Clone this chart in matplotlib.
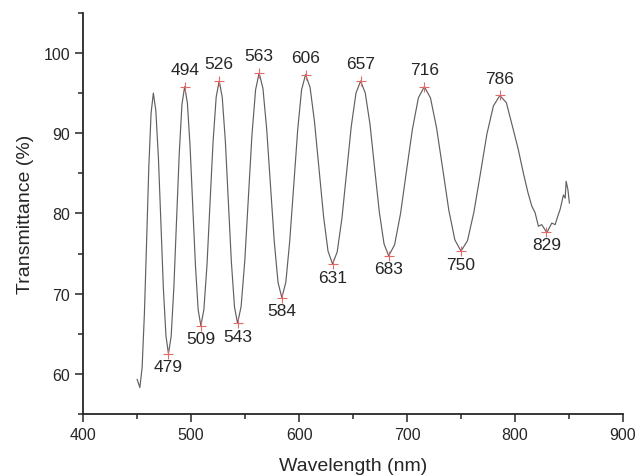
import matplotlib.pyplot as plt
import matplotlib.ticker as ticker

plt.rcParams['font.family'] = ['Liberation Sans', 'DejaVu Sans']

# Transmission spectrum (wavelength nm, transmittance %)
wavelength = [450, 452.5, 454.6, 456.7, 458.8, 460.8, 462.9, 465,
              467.3, 469.7, 472, 474.3, 476.7, 479,
              481.5, 484, 486.5, 489, 491.5, 494,
              496.5, 499, 501.5, 504, 506.5, 509,
              511.8, 514.7, 517.5, 520.3, 523.2, 526,
              528.8, 531.7, 534.5, 537.3, 540.2, 543,
              546.3, 549.7, 553, 556.3, 559.7, 563,
              566.5, 570, 573.5, 577, 580.5, 584,
              587.7, 591.3, 595, 598.7, 602.3, 606,
              610.2, 614.3, 618.5, 622.7, 626.8, 631,
              635.3, 639.7, 644, 648.3, 652.7, 657,
              661.3, 665.7, 670, 674.3, 678.7, 683,
              688.5, 694, 699.5, 705, 710.5, 716,
              721.7, 727.3, 733, 738.7, 744.3, 750,
              756, 762, 768, 774, 780, 786,
              792, 798.5, 803, 807.8, 812, 815.6, 818.6, 821.7, 824.8, 829.5,
              834.1, 837.2, 839.5, 841.8, 844.9, 846.5, 847.4, 849, 850.4]
transmittance = [59.3, 58.3, 60.8, 67.5, 76.7, 85.8, 92.5, 95.0,
                 92.8, 86.9, 78.8, 70.6, 64.7, 62.5,
                 64.7, 70.8, 79.2, 87.5, 93.6, 95.8,
                 93.8, 88.4, 80.9, 73.5, 68.0, 66.0,
                 68.0, 73.6, 81.3, 88.9, 94.5, 96.5,
                 94.5, 89.0, 81.4, 73.9, 68.3, 66.3,
                 68.4, 74.1, 81.9, 89.7, 95.4, 97.5,
                 95.6, 90.5, 83.5, 76.5, 71.4, 69.5,
                 71.4, 76.5, 83.4, 90.4, 95.4, 97.3,
                 95.7, 91.4, 85.5, 79.6, 75.3, 73.7,
                 75.2, 79.4, 85.1, 90.8, 95.0, 96.5,
                 95.0, 91.1, 85.6, 80.2, 76.2, 74.7,
                 76.1, 80.0, 85.3, 90.5, 94.4, 95.8,
                 94.4, 90.7, 85.6, 80.4, 76.7, 75.3,
                 76.6, 80.2, 85.0, 89.9, 93.4, 94.7,
                 93.8, 90.4, 88.0, 85.0, 82.6, 80.9, 80.1, 78.4, 78.6, 77.6,
                 78.8, 78.6, 79.6, 80.5, 82.3, 81.9, 84.0, 83.0, 81.3]

# Marked maxima and minima
peak_wl = [494, 526, 563, 606, 657, 716, 786]
peak_t = [95.8, 96.5, 97.5, 97.3, 96.5, 95.8, 94.7]
valley_wl = [479, 509, 543, 584, 631, 683, 750, 829]
valley_t = [62.5, 66.0, 66.3, 69.5, 73.7, 74.7, 75.3, 77.7]

fig = plt.figure(figsize=(6.35, 4.77), dpi=100)
ax = fig.add_axes([0.131, 0.130, 0.850, 0.841])

ax.plot(wavelength, transmittance, color='#606060', linewidth=0.85,
        solid_joinstyle='round')
ax.plot(peak_wl + valley_wl, peak_t + valley_t, '+', color='#e36a6a',
        markersize=6.5, markeredgewidth=0.8)

for wl, t in zip(peak_wl, peak_t):
    ax.annotate(str(wl), (wl, t), xytext=(0, 7), textcoords='offset points',
                ha='center', va='bottom', fontsize=12.5, color='#262626')
for wl, t in zip(valley_wl, valley_t):
    ax.annotate(str(wl), (wl, t), xytext=(0, -4), textcoords='offset points',
                ha='center', va='top', fontsize=12.5, color='#262626')

ax.set_xlim(400, 900)
ax.set_ylim(55, 105)
ax.xaxis.set_major_locator(ticker.MultipleLocator(100))
ax.xaxis.set_minor_locator(ticker.MultipleLocator(50))
ax.yaxis.set_major_locator(ticker.MultipleLocator(10))
ax.yaxis.set_minor_locator(ticker.MultipleLocator(5))
ax.tick_params(which='major', direction='out', length=6, width=1.1,
               labelsize=11.5, labelcolor='#262626', color='#262626')
ax.tick_params(which='minor', direction='out', length=3.5, width=1.1, color='#262626')

for side in ['top', 'right']:
    ax.spines[side].set_visible(False)
for side in ['left', 'bottom']:
    ax.spines[side].set_linewidth(1.3)
    ax.spines[side].set_color('#262626')

ax.set_xlabel('Wavelength (nm)', fontsize=14, color='#262626', labelpad=11)
ax.set_ylabel('Transmittance (%)', fontsize=14, color='#262626', labelpad=7)

fig.savefig('out.png', dpi=100)
